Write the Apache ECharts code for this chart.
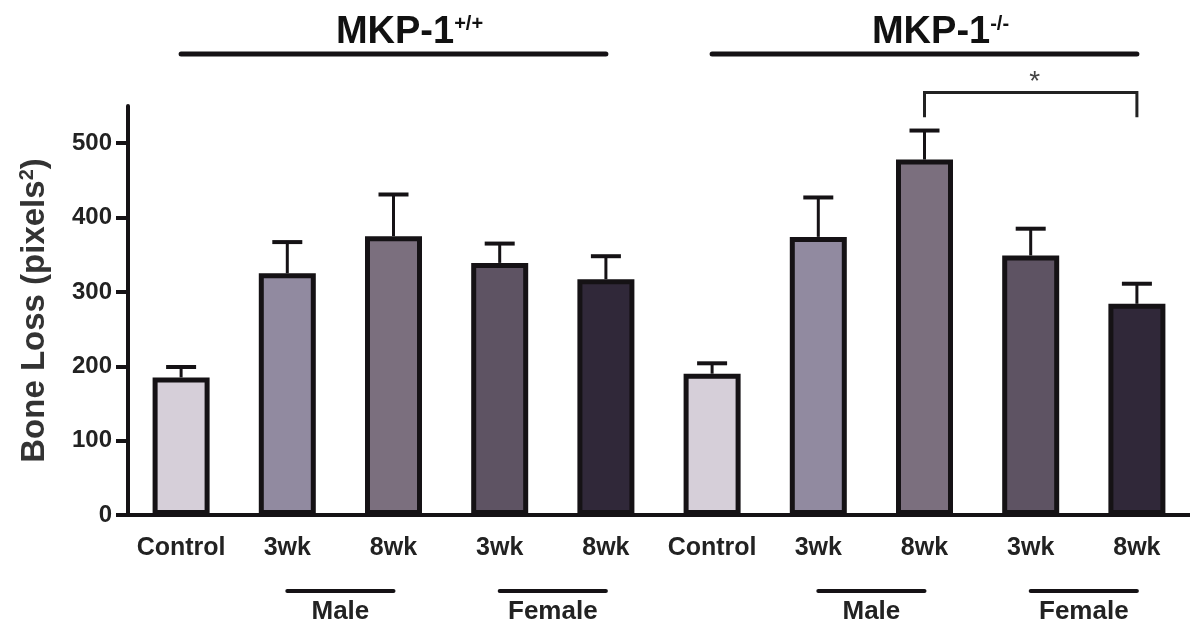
<!DOCTYPE html>
<html>
<head>
<meta charset="utf-8">
<script src="https://cdn.jsdelivr.net/npm/echarts@6/dist/echarts.min.js"></script>
<style>
  html, body { margin: 0; padding: 0; background: #fff; }
  #chart { width: 1190px; height: 628px; }
</style>
</head>
<body>
<div id="chart"></div>
<script>
const categories = ['Control', '3wk', '8wk', '3wk', '8wk', 'Control', '3wk', '8wk', '3wk', '8wk']
const boneLoss = [185, 325, 375, 339, 317, 190, 374, 478, 349, 284]
const sem = [14, 42, 56, 26, 31, 14, 53, 39, 36, 27]
const barColors = ['#d6cfd9', '#918aa0', '#7b6f7e', '#5e5363', '#302839',
                   '#d6cfd9', '#918aa0', '#7b6f7e', '#5e5363', '#302839']
const yTicks = [0, 100, 200, 300, 400, 500]

// header bars over each genotype, sex bars under the axis
const genotypes = [
  { label: 'MKP-1', sup: '+/+', from: 0, to: 4 },
  { label: 'MKP-1', sup: '-/-', from: 5, to: 9 }
]
const sexes = [
  { label: 'Male', from: 1, to: 2 },
  { label: 'Female', from: 3, to: 4 },
  { label: 'Male', from: 6, to: 7 },
  { label: 'Female', from: 8, to: 9 }
]
// significance bracket: 8wk male vs 8wk female in MKP-1 -/-
const sigPair = [7, 9]
const sigLevels = [568, 535]

const font = "'Liberation Sans', Arial, sans-serif"
const ink = '#151215'

const chart = echarts.init(document.getElementById('chart'))

const option = {
  backgroundColor: '#fff',
  animation: false,
  grid: { left: 128, top: 106, width: 1068, height: 409 },
  xAxis: {
    type: 'category',
    data: categories,
    axisLine: { lineStyle: { color: ink, width: 4 } },
    axisTick: { alignWithLabel: true, length: 11, lineStyle: { color: ink, width: 4 } },
    axisLabel: { fontFamily: font, fontSize: 25, fontWeight: 'bold', color: '#222', margin: 21, interval: 0 }
  },
  yAxis: {
    type: 'value',
    min: 0,
    max: 550,
    interval: 100,
    name: 'Bone Loss (pixels{sup|2})',
    nameLocation: 'middle',
    nameGap: 76,
    nameRotate: 90,
    nameTextStyle: {
      fontFamily: font, fontSize: 33, fontWeight: 'bold', color: '#333',
      rich: { sup: { fontFamily: font, fontSize: 20, fontWeight: 'bold', color: '#333', padding: [0, 0, 15, 0] } }
    },
    axisLine: { show: true, lineStyle: { color: ink, width: 4 } },
    axisTick: { show: true, customValues: yTicks, length: 12, lineStyle: { color: ink, width: 4 } },
    axisLabel: { customValues: yTicks, fontFamily: font, fontSize: 24, fontWeight: 'bold', color: '#222', margin: 16 },
    splitLine: { show: false }
  },
  series: [
    {
      type: 'bar',
      barWidth: 57,
      data: boneLoss.map((v, i) => ({ value: v, itemStyle: { color: barColors[i] } })),
      itemStyle: { borderColor: ink, borderWidth: 5 },
      z: 2
    },
    {
      type: 'custom',
      data: boneLoss.map((v, i) => [i, v + sem[i], v]),
      z: 3,
      renderItem(params, api) {
        const top = api.coord([api.value(0), api.value(1)])
        const base = api.coord([api.value(0), api.value(2)])
        const half = 15
        return {
          type: 'group',
          children: [
            { type: 'line', shape: { x1: top[0], y1: top[1], x2: base[0], y2: base[1] }, style: { stroke: ink, lineWidth: 3 } },
            { type: 'line', shape: { x1: top[0] - half, y1: top[1], x2: top[0] + half, y2: top[1] }, style: { stroke: ink, lineWidth: 4 } }
          ]
        }
      }
    }
  ]
}

chart.setOption(option)

// annotations placed from the axis scales
const px = i => chart.convertToPixel({ xAxisIndex: 0 }, i)
const py = v => chart.convertToPixel({ yAxisIndex: 0 }, v)
const graphics = []

genotypes.forEach(g => {
  const x1 = px(g.from), x2 = px(g.to)
  graphics.push({ type: 'line', shape: { x1, y1: 54, x2, y2: 54 }, style: { stroke: ink, lineWidth: 5, lineCap: 'round' } })
  graphics.push({
    type: 'text', x: (x1 + x2) / 2 + 16, y: 52,
    style: {
      text: '{b|' + g.label + '}{s|' + g.sup + '}',
      align: 'center', verticalAlign: 'bottom',
      rich: {
        b: { fontFamily: font, fontSize: 38, fontWeight: 'bold', fill: '#111' },
        s: { fontFamily: font, fontSize: 20, fontWeight: 'bold', fill: '#111', padding: [0, 0, 18, 0] }
      }
    }
  })
})

sexes.forEach(s => {
  const x1 = px(s.from), x2 = px(s.to)
  graphics.push({ type: 'line', shape: { x1, y1: 591, x2, y2: 591 }, style: { stroke: ink, lineWidth: 4, lineCap: 'round' } })
  graphics.push({
    type: 'text', x: (x1 + x2) / 2, y: 612,
    style: { text: s.label, fontFamily: font, fontSize: 26, fontWeight: 'bold', fill: '#222', align: 'center', verticalAlign: 'middle' }
  })
})

const bx1 = px(sigPair[0]), bx2 = px(sigPair[1])
const byTop = py(sigLevels[0]), byEnd = py(sigLevels[1])
graphics.push({
  type: 'polyline',
  shape: { points: [[bx1, byEnd], [bx1, byTop], [bx2, byTop], [bx2, byEnd]] },
  style: { stroke: '#222', lineWidth: 3, fill: null }
})
graphics.push({
  type: 'text', x: (bx1 + bx2) / 2 + 4, y: byTop + 4,
  style: { text: '*', fontFamily: font, fontSize: 28, fill: '#444', align: 'center', verticalAlign: 'bottom' }
})

chart.setOption({ graphic: graphics })
</script>
</body>
</html>
